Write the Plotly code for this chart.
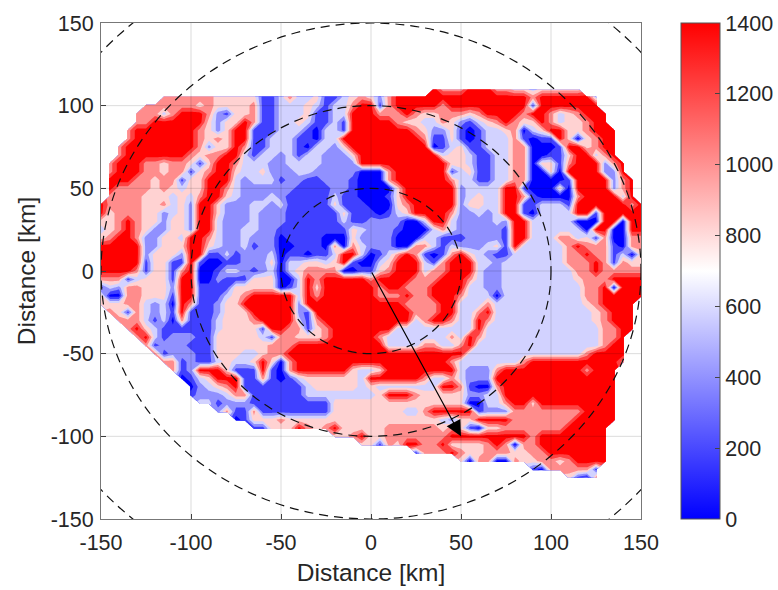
import plotly.graph_objects as go

# Each row is one y value; each column one x value (-150..150 by 5 km).
# Digits are colour bands of the chart (0 = lowest .. 7 = highest); '.' = no data.
Y_KM = list(range(110, -130, -5))
X_KM = list(range(-150, 155, 5))
BAND_WIDTH = 175
BANDS = [
".......... .......... .......... .......755 5777554434 4444...... .",
".......555 5554444411 3533411345 4257777777 7777777757 777773.... .",
".....55555 5454444511 3334313357 7157777757 7777777717 777777.... .",
"....555357 7752144511 3334113377 7555754455 5457777577 5345777... .",
"....557777 7742447511 3343113177 7775443354 2134575447 5344577... .",
"...5777777 7542477111 3331033177 7777754224 1013345034 77445777.. .",
"...5777777 7545477113 3311033777 7777775114 1013335101 17404577.. .",
"..57777777 7524475113 3310332477 7777777013 4113335500 01774577.. .",
"..57777777 5455773133 2313322247 7777777734 4311335500 11477357.. .",
".577755455 4147753332 2333322227 7777777774 4311335504 415777257. .",
".577755455 1457743342 2233222220 0057777771 3411335500 407777227. .",
".777554551 4477732333 1221122210 0057777775 3311335500 0017777257 .",
".755554543 4477532222 2211112210 0004777777 2333377100 0407777257 .",
".555544434 3577432223 2111113110 0014777777 2343377510 0005777737 .",
"7555544534 2774222332 3111114111 0004577777 2443377113 3317777775 7",
"7455544234 2774222322 2111111411 1013477775 2232377103 3337717777 7",
"4457544244 2773222322 2111111311 2222003773 2222327733 3330007707 7",
"3457542244 2773223322 1111111143 2221000353 2222217733 3333077007 7",
"4577522443 7753223222 0111100042 2220003311 1222217733 3553415005 5",
"7777722444 7743223122 0011105053 2220055313 2223417333 3357555105 5",
"7777724442 7711312223 0110113773 0135751015 7432113333 3355755130 4",
"7777714411 7100112224 0334434710 0347773157 7733233333 3355575154 4",
"7777514415 7001332123 0345555001 1457773557 7732233333 3335575555 5",
"5551344417 7002111444 0037577777 5777755577 7532233333 3334555777 7",
"1325544427 7111144444 0137477777 7577555777 7332233333 3333557077 7",
"4005544417 7111345777 7737577777 7555755777 5333033333 3333557777 7",
"4445532307 5112447777 7727777777 7777555577 3335333333 3333457777 .",
".541532317 1112444777 7721777777 7777755577 3357333333 3333345777 .",
"..55531305 1113444577 7731577777 7777735775 3375333333 3333345777 .",
"...5743111 1113444417 7551457777 7773333333 3373333333 3333335577 .",
"....573122 2114444431 5544457777 7533333335 3753333333 333333557. .",
".....51222 1114444445 5577777777 7733335533 5733333333 333333577. .",
"......5122 2114443345 5777777777 7777777777 7333333333 333357777. .",
".......551 2113433474 0577777777 7777777775 3333333577 777777775. .",
"........51 2777411171 0577777743 3477777777 3222577777 77775777.. .",
".........0 1347771151 0134444443 7777775335 3222777777 77777777.. .",
".......... 0234571111 1113444443 4333333377 5100577777 77777777.. .",
".......... 1222355111 1113333333 3477754444 4223377777 77777777.. .",
".......... .331222111 1111114444 4444444444 4003357747 77777777.. .",
".......... ...2511511 1111114444 4444335777 7712225555 55557777.. .",
".......... .....01444 5444444444 4444444432 4477775555 55577777.. .",
".......... .......114 4475457444 4455555545 4104455555 5577777... .",
".......... .......... ......4457 4455555557 7777777757 7777777... .",
".......... .......... .........4 4154775574 4445750557 7777777... .",
".......... .......... .......... .....15557 5445554455 7777777... .",
".......... .......... .......... .......... 4055005445 5457777... .",
".......... .......... .......... .......... ........10 555551.... .",
".......... .......... .......... .......... .......... ..4105.... .",
]
BAND_COLORS = ["#0000ff", "#4040ff", "#9090ff", "#d2d2ff", "#ffd2d2", "#ff8c8c", "#ff4040", "#ff0000"]
TICKS_XY = [-150, -100, -50, 0, 50, 100, 150]
TICK_TEXT = ["-150", "-100", "-50", "0", "50", "100", "150"]
CBAR_TICKS = [0, 200, 400, 600, 800, 1000, 1200, 1400]
RADII = [50, 100, 150, 200]
ARROW_END = (50, -100)

z = []
for row in BANDS:
    s = row.replace(" ", "")
    s = (s + "." * len(X_KM))[:len(X_KM)]
    z.append([None if c == "." else (int(c) + 0.5) * BAND_WIDTH for c in s])

n = len(BAND_COLORS)
scale = []
for i, c in enumerate(BAND_COLORS):
    scale += [[i / n, c], [(i + 1) / n, c]]

fig = go.Figure()
fig.add_trace(go.Contour(
    x=X_KM, y=Y_KM, z=z, zmin=0, zmax=1400, autocontour=False,
    contours=dict(start=BAND_WIDTH, end=BAND_WIDTH * (n - 1), size=BAND_WIDTH, coloring="fill", showlines=False),
    line=dict(width=0, smoothing=0), colorscale=scale, showscale=False, hoverinfo="skip",
))
fig.add_trace(go.Scatter(
    x=[None, None], y=[None, None], mode="markers", showlegend=False, hoverinfo="skip",
    marker=dict(color=[0, 1400], cmin=0, cmax=1400,
                colorscale=[[0, "#0000ff"], [0.5, "#ffffff"], [1, "#ff0000"]], showscale=True,
                colorbar=dict(x=1.074, xanchor="left", xpad=0, y=0.5, yanchor="middle", ypad=0,
                              len=1, lenmode="fraction", thickness=39, thicknessmode="pixels",
                              tickvals=CBAR_TICKS, ticks="inside", ticklen=5, tickcolor="#444",
                              outlinecolor="#555", outlinewidth=1,
                              tickfont=dict(family="Liberation Sans", size=21.5, color="#262626"))),
))
for v in TICKS_XY[1:-1]:
    fig.add_shape(type="line", x0=v, x1=v, y0=-150, y1=150, line=dict(color="rgba(0,0,0,0.14)", width=1))
    fig.add_shape(type="line", y0=v, y1=v, x0=-150, x1=150, line=dict(color="rgba(0,0,0,0.14)", width=1))
for r in RADII:
    fig.add_shape(type="circle", x0=-r, x1=r, y0=-r, y1=r, line=dict(color="#111", width=1.2, dash="9px,6px"))
fig.add_annotation(x=ARROW_END[0], y=ARROW_END[1], ax=0, ay=0, axref="x", ayref="y", text="", showarrow=True,
                   arrowhead=2, arrowsize=2.6, arrowwidth=1.2, arrowcolor="#000")

axis = dict(range=[-150, 150], tickvals=TICKS_XY, ticktext=TICK_TEXT, ticks="inside", ticklen=5, tickcolor="#444",
            showgrid=False, zeroline=False, showline=True, linecolor="#777", linewidth=1, mirror=True,
            tickfont=dict(family="Liberation Sans", size=21.5, color="#262626"))
fig.update_layout(
    width=778, height=590, margin=dict(l=101, r=137, t=23, b=71, autoexpand=False), plot_bgcolor="white", paper_bgcolor="white",
    showlegend=False,
    xaxis=dict(axis, ticklabelstandoff=4, title=dict(text="Distance [km]", standoff=10, font=dict(family="Liberation Sans", size=24.5, color="#262626"))),
    yaxis=dict(axis, ticklabelstandoff=2, title=dict(text="Distance [km]", standoff=8, font=dict(family="Liberation Sans", size=24.5, color="#262626"))),
)
fig.write_html("out.html", config={"displayModeBar": False},
               post_script="document.body.style.margin='0';document.documentElement.style.overflow='hidden';")
